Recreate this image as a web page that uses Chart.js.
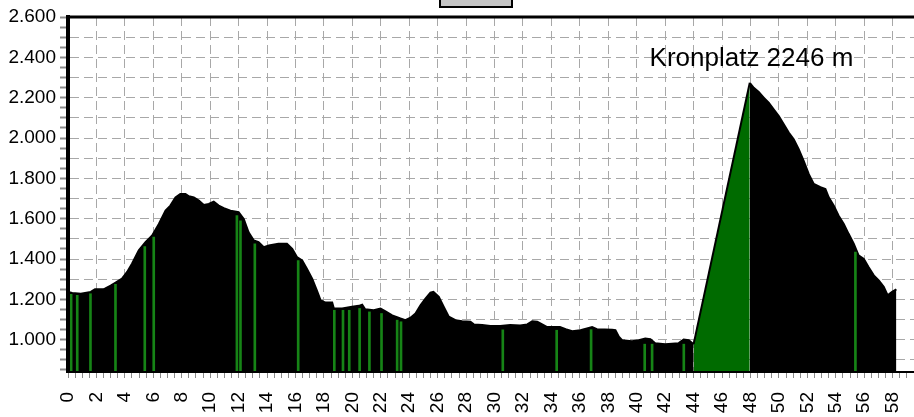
<!DOCTYPE html>
<html>
<head>
<meta charset="utf-8">
<script src="https://cdn.jsdelivr.net/npm/chart.js@4/dist/chart.umd.min.js"></script>
<style>
html,body{margin:0;padding:0;background:#fff;}
#wrap{width:914px;height:417px;position:relative;overflow:hidden;}
canvas{display:block;}
</style>
</head>
<body>
<div id="wrap"><canvas id="c" width="914" height="417"></canvas></div>
<script>
// ---- data (distance in km, elevation in m) ----
const km = [0.0,0.3,0.9,1.6,1.9,2.5,3.0,3.35,3.8,4.16,4.5,4.98,5.45,5.92,6.39,6.86,7.2,7.56,7.9,8.26,8.5,8.85,9.2,9.55,9.9,10.25,10.6,10.96,11.43,12.0,12.36,12.7,13.07,13.4,13.77,14.12,14.8,15.4,15.77,16.1,16.47,16.8,17.17,17.5,17.76,18.1,18.58,18.7,19.28,19.98,20.45,20.69,20.9,21.5,21.98,22.33,22.8,23.38,23.73,24.09,24.44,24.79,25.14,25.49,25.7,26.08,26.43,26.78,27.25,27.72,28.3,28.54,29.13,29.7,30.4,31.1,31.8,32.3,32.65,33.0,33.35,33.7,34.6,35.0,35.46,36.04,36.5,36.86,37.2,38.27,38.5,38.74,38.97,39.67,40.14,40.6,40.96,41.3,42.0,42.95,43.3,43.66,44.0,47.95,48.23,48.58,48.93,49.28,49.63,49.99,50.34,50.69,51.04,51.39,51.74,52.1,52.45,52.92,53.27,53.5,53.85,54.2,54.56,54.9,55.26,55.6,55.97,56.3,56.67,57.02,57.37,57.65,57.96,58.26];
const elev = [1237,1232,1228,1237,1250,1250,1268,1283,1303,1336,1377,1443,1484,1517,1574,1640,1665,1706,1723,1723,1711,1706,1690,1668,1673,1684,1665,1652,1640,1632,1599,1533,1492,1484,1459,1467,1476,1476,1451,1410,1393,1352,1303,1245,1196,1184,1184,1155,1155,1163,1168,1174,1151,1146,1155,1141,1121,1105,1097,1109,1130,1171,1204,1233,1237,1212,1163,1114,1097,1092,1089,1076,1073,1068,1068,1073,1070,1076,1092,1089,1076,1063,1063,1052,1042,1047,1056,1063,1052,1050,1047,1015,998,993,998,1006,1003,983,978,983,1001,998,978,2274,2249,2228,2200,2175,2142,2109,2068,2027,1994,1945,1887,1821,1772,1756,1747,1706,1665,1615,1574,1525,1476,1418,1401,1360,1319,1294,1262,1220,1237,1250];
// green marked spots along the profile
const stripeKm   = [0.22,0.65,1.58,3.34,5.4,6.03,11.88,12.13,13.14,16.19,18.73,19.34,19.78,20.51,21.2,22.05,23.15,23.42,30.58,34.37,36.79,40.56,41.08,43.31,55.38];
const stripeElev = [1225,1220,1228,1275,1462,1509,1616,1590,1476,1393,1146,1146,1146,1155,1138,1130,1097,1089,1049,1047,1050,978,978,978,1434];
// lift section (green filled)
const climbSection = [44.0, 47.95];
const peakLabel = 'Kronplatz 2246 m';
const xTickLabels = ['0','2','4','6','8','10','12','14','16','18','20','22','24','26','28','30','32','34','36','38','40','42','44','46','48','50','52','54','56','58'];
const yTickLabels = ['1.000','1.200','1.400','1.600','1.800','2.000','2.200','2.400','2.600'];

const FONT = '"Liberation Sans", Arial, sans-serif';
const GREEN = '#006b00';
const STRIPE = '#168416';

const framePlugin = {
  id: 'frame',
  afterDraw(chart) {
    const {ctx, chartArea: a, scales} = chart;
    ctx.save();
    // top frame line
    ctx.strokeStyle = '#000';
    ctx.lineWidth = 3;
    ctx.beginPath();
    ctx.moveTo(a.left - 2, a.top);
    ctx.lineTo(a.right, a.top);
    ctx.stroke();
    // small grey box at top centre
    ctx.fillStyle = '#c4c4c4';
    ctx.fillRect(440, -5, 72, 12);
    ctx.lineWidth = 2;
    ctx.strokeRect(440, -5, 72, 12);
    // peak label
    ctx.fillStyle = '#000';
    ctx.font = '26px ' + FONT;
    ctx.textBaseline = 'alphabetic';
    ctx.textAlign = 'left';
    ctx.fillText(peakLabel, scales.x.getPixelForValue(40.9), scales.y.getPixelForValue(2355));
    ctx.restore();
  }
};

const profile = km.map((k, i) => ({x: k, y: elev[i]}));
const stripes = stripeKm.map((k, i) => ({x: k, y: stripeElev[i]}));

new Chart(document.getElementById('c'), {
  type: 'line',
  data: {
    datasets: [
      {
        type: 'bar',
        data: stripes,
        backgroundColor: STRIPE,
        borderWidth: 0,
        barThickness: 2,
        order: 0
      },
      {
        type: 'line',
        data: profile,
        borderColor: '#000',
        borderWidth: 2,
        backgroundColor: '#000',
        fill: 'start',
        pointRadius: 0,
        tension: 0,
        order: 1,
        segment: {
          backgroundColor: c => (c.p0.parsed.x >= climbSection[0] && c.p1.parsed.x <= climbSection[1]) ? GREEN : '#000'
        }
      }
    ]
  },
  options: {
    responsive: false,
    animation: false,
    devicePixelRatio: 1,
    layout: {padding: {top: 17, left: 0, right: 0, bottom: 0}},
    plugins: {legend: {display: false}, tooltip: {enabled: false}},
    scales: {
      x: {
        type: 'linear',
        min: 0,
        max: 59.5,
        offset: false,
        grid: {
          offset: false,
          color: c => (c.tick && c.tick.value > 0 && c.tick.value % 2 === 0) ? '#a8a8a8' : 'rgba(0,0,0,0)',
          lineWidth: 1,
          tickColor: '#8a8a8a',
          tickLength: 6,
          tickWidth: 1
        },
        border: {display: true, color: '#000', width: 2, dash: [9, 5], z: 1},
        ticks: {
          stepSize: 0.5,
          includeBounds: false,
          autoSkip: false,
          minRotation: 90,
          maxRotation: 90,
          padding: 14,
          color: '#000',
          font: {family: FONT, size: 19},
          callback: v => (v % 2 === 0 && xTickLabels.includes(String(v))) ? String(v) : ''
        },
        afterFit: s => { s.height = 45; s.paddingLeft = 0; s.paddingRight = 0; }
      },
      y: {
        type: 'linear',
        min: 840,
        max: 2600,
        grid: {
          color: c => (c.tick && c.tick.value % 100 === 0) ? '#a8a8a8' : 'rgba(0,0,0,0)',
          lineWidth: 1,
          tickColor: '#8a8a8a',
          tickLength: 8,
          tickWidth: 2
        },
        border: {display: true, color: '#000', width: 4, dash: [9, 5], z: 1},
        ticks: {
          stepSize: 50,
          includeBounds: false,
          autoSkip: false,
          padding: 4,
          color: '#000',
          font: {family: FONT, size: 19},
          callback: v => (v % 200 === 0) ? (yTickLabels[(v - 1000) / 200] || '') : ''
        },
        afterFit: s => { s.width = 68; s.paddingTop = 0; s.paddingBottom = 0; }
      }
    }
  },
  plugins: [framePlugin]
});
</script>
</body>
</html>
